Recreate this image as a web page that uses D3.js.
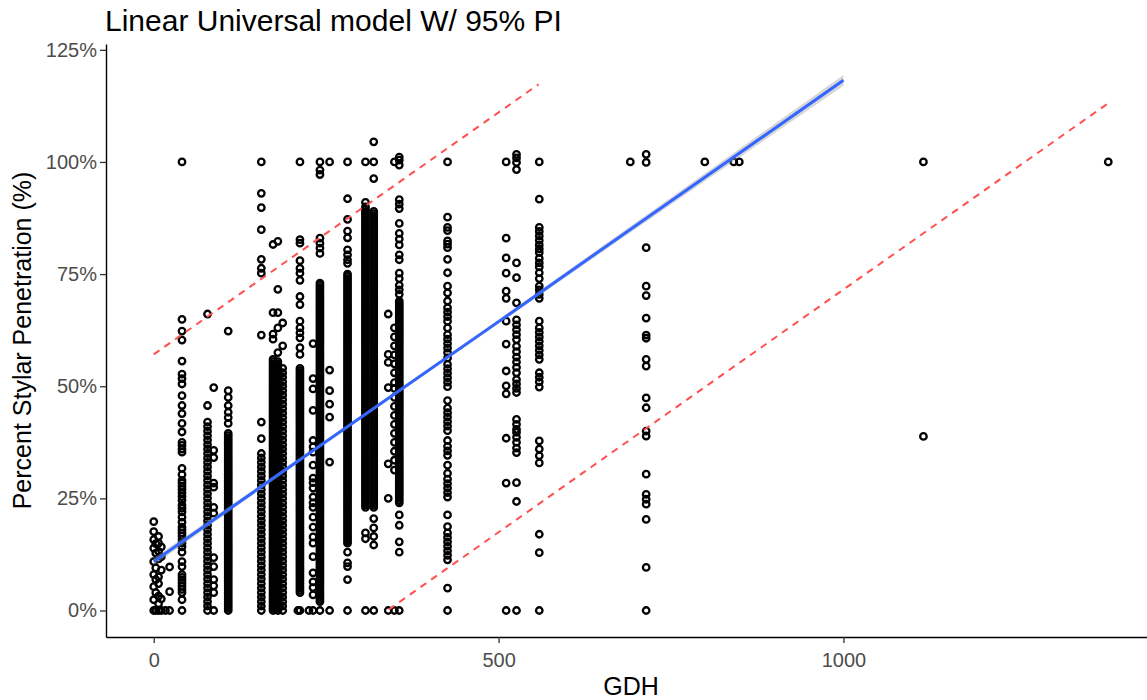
<!DOCTYPE html>
<html>
<head>
<meta charset="utf-8">
<script src="https://cdn.jsdelivr.net/npm/d3@7"></script>
<style>
  html, body { margin: 0; padding: 0; background: #fff; overflow: hidden; }
  svg { display: block; font-family: "Liberation Sans", Arial, Helvetica, sans-serif; }
</style>
</head>
<body>
<svg id="chart" width="1147" height="700"></svg>
<script>
const chartTitle = "Linear Universal model W/ 95% PI";
const xTitle = "GDH";
const yTitle = "Percent Stylar Penetration (%)";
const xTicks = [0, 500, 1000];
const yTicks = [0, 25, 50, 75, 100, 125];

// GDH at which each group of flowers was sampled
const groupGDH = [0, 3, 7, 11, 17, 23, 41, 78, 87, 108, 156, 173, 180, 187, 209, 212, 225, 231, 241, 255,
  281, 307, 319, 340, 349, 356, 426, 511, 526, 559, 691, 714, 799, 841, 849, 1116, 1384];

// stylar penetration (%) of each flower in the matching group
const groupPct = [
  [0, 2.4, 5.3, 8, 10.9, 13.9, 15.8, 17.6, 19.8],
  [0, 4, 6.9, 9.5, 12.8, 14.9],
  [0, 1.5, 3.2, 6, 7.5, 11.5, 13.2, 15, 16.5],
  [0, 2.6, 9, 12, 14.2],
  [0],
  [0, 4.2, 9.7],
  [0, 2.4, 4, 4.7, 5.4, 6.1, 6.8, 7.4, 8, 9.8, 10.9, 13, 14.2, 15, 15.8, 16.6, 17.3, 18, 18.6, 19.7, 20.8, 22, 22.8, 23.5,
   24.6, 25.4, 26.2, 27, 27.7, 28.4, 29, 30.3, 31.7, 35.3, 36, 36.8, 37.5, 39.8, 41.7, 43.9, 45.7, 47.9, 50.5, 51.7,
   52.7, 55.6, 60.3, 62.3, 64.9, 100],
  [0, 1, 2, 3, 4, 5, 6, 7, 8, 9, 10, 11, 12, 13, 14, 15, 16, 17, 18, 19, 20, 21, 22, 23, 24, 25, 26, 27, 28, 29, 30, 31,
   32, 33, 34, 35, 36, 37, 38, 39, 40, 41, 42, 45.7, 66.1],
  [0, 4, 5.5, 6.9, 9.8, 11.8, 21.7, 23, 27.5, 28.4, 34.1, 35.7, 49.7],
  [0, .5, 1, 1.5, 2, 2.5, 3, 3.5, 4, 4.5, 5, 5.5, 6, 6.5, 7, 7.5, 8, 8.5, 9, 9.5, 10, 10.5, 11, 11.5, 12, 12.5, 13, 13.5,
   14, 14.5, 15, 15.5, 16, 16.5, 17, 17.5, 18, 18.5, 19, 19.5, 20, 20.5, 21, 21.5, 22, 22.5, 23, 23.5, 24, 24.5, 25, 25.5,
   26, 26.5, 27, 27.5, 28, 28.5, 29, 29.5, 30, 30.5, 31, 31.5, 32, 32.5, 33, 33.5, 34, 34.5, 35, 35.5, 36, 36.5, 37, 37.5,
   38, 38.5, 39, 39.5, 41.7, 43, 44.2, 45.7, 47.5, 49, 62.3],
  [0, 1, 2, 3, 4, 5, 6, 7, 8, 9, 10, 11, 12, 13, 14, 15, 16, 17, 18, 19, 20, 21, 22, 23, 24, 25, 26, 27, 28, 29, 30, 31,
   32, 33, 34, 35, 38.3, 42, 61.4, 75.2, 76.3, 78.3, 84.9, 89.8, 93, 100],
  [0, .5, 1, 1.5, 2, 2.5, 3, 3.5, 4, 4.5, 5, 5.5, 6, 6.5, 7, 7.5, 8, 8.5, 9, 9.5, 10, 10.5, 11, 11.5, 12, 12.5, 13, 13.5,
   14, 14.5, 15, 15.5, 16, 16.5, 17, 17.5, 18, 18.5, 19, 19.5, 20, 20.5, 21, 21.5, 22, 22.5, 23, 23.5, 24, 24.5, 25, 25.5,
   26, 26.5, 27, 27.5, 28, 28.5, 29, 29.5, 30, 30.5, 31, 31.5, 32, 32.5, 33, 33.5, 34, 34.5, 35, 35.5, 36, 36.5, 37, 37.5,
   38, 38.5, 39, 39.5, 40, 40.5, 41, 41.5, 42, 42.5, 43, 43.5, 44, 44.5, 45, 45.5, 46, 46.5, 47, 47.5, 48, 48.5, 49, 49.5,
   50, 50.5, 51, 51.5, 52, 52.5, 53, 53.5, 54, 54.5, 55, 55.5, 56, 60.5, 61.6, 66.4, 81.6],
  [0, .5, 1, 1.5, 2, 2.5, 3, 3.5, 4, 4.5, 5, 5.5, 6, 6.5, 7, 7.5, 8, 8.5, 9, 9.5, 10, 10.5, 11, 11.5, 12, 12.5, 13, 13.5,
   14, 14.5, 15, 15.5, 16, 16.5, 17, 17.5, 18, 18.5, 19, 19.5, 20, 20.5, 21, 21.5, 22, 22.5, 23, 23.5, 24, 24.5, 25, 25.5,
   26, 26.5, 27, 27.5, 28, 28.5, 29, 29.5, 30, 30.5, 31, 31.5, 32, 32.5, 33, 33.5, 34, 34.5, 35, 35.5, 36, 36.5, 37, 37.5,
   38, 38.5, 39, 39.5, 40, 40.5, 41, 41.5, 42, 42.5, 43, 43.5, 44, 44.5, 45, 45.5, 46, 46.5, 47, 47.5, 48, 48.5, 49, 49.5,
   50, 50.5, 51, 51.5, 52, 52.5, 53, 53.5, 54, 54.5, 55, 55.5, 57.5, 63, 66.4, 71.6, 82.3],
  [0, 1, 2, 3, 4, 5, 6, 7, 8, 9, 10, 11, 12, 13, 14, 15, 16, 17, 18, 19, 20, 21, 22, 23, 24, 25, 26, 27, 28, 29, 30, 31,
   32, 33, 34, 35, 36, 37, 38, 39, 40, 41, 42, 43, 44, 45, 46, 47, 48, 49, 50, 51, 52, 53, 54, 59, 64.1],
  [0],
  [0, 4, 4.5, 5, 5.5, 6, 6.5, 7, 7.5, 8, 8.5, 9, 9.5, 10, 10.5, 11, 11.5, 12, 12.5, 13, 13.5, 14, 14.5, 15, 15.5, 16, 16.5,
   17, 17.5, 18, 18.5, 19, 19.5, 20, 20.5, 21, 21.5, 22, 22.5, 23, 23.5, 24, 24.5, 25, 25.5, 26, 26.5, 27, 27.5, 28, 28.5,
   29, 29.5, 30, 30.5, 31, 31.5, 32, 32.5, 33, 33.5, 34, 34.5, 35, 35.5, 36, 36.5, 37, 37.5, 38, 38.5, 39, 39.5, 40, 40.5,
   41, 41.5, 42, 42.5, 43, 43.5, 44, 44.5, 45, 45.5, 46, 46.5, 47, 47.5, 48, 48.5, 49, 49.5, 50, 50.5, 51, 51.5, 52, 52.5,
   53, 53.5, 54, 57.1, 58.6, 60.8, 61.9, 63, 64.5, 68.2, 70, 73.6, 75.2, 76.3, 78, 81.9, 82.7, 100],
  [0],
  [0, 3.5, 5.1, 6.4, 8.4, 12, 15, 16.4, 18.6, 20.8, 23, 24, 25.3, 27.3, 28.5, 29.5, 32.4, 35.3, 36.5, 37.9, 44.6, 49.4,
   51.7, 59.5],
  [0, 2, 2.5, 3, 3.5, 4, 4.5, 5, 5.5, 6, 6.5, 7, 7.5, 8, 8.5, 9, 9.5, 10, 10.5, 11, 11.5, 12, 12.5, 13, 13.5, 14, 14.5, 15,
   15.5, 16, 16.5, 17, 17.5, 18, 18.5, 19, 19.5, 20, 20.5, 21, 21.5, 22, 22.5, 23, 23.5, 24, 24.5, 25, 25.5, 26, 26.5, 27,
   27.5, 28, 28.5, 29, 29.5, 30, 30.5, 31, 31.5, 32, 32.5, 33, 33.5, 34, 34.5, 35, 35.5, 36, 36.5, 37, 37.5, 38, 38.5, 39,
   39.5, 40, 40.5, 41, 41.5, 42, 42.5, 43, 43.5, 44, 44.5, 45, 45.5, 46, 46.5, 47, 47.5, 48, 48.5, 49, 49.5, 50, 50.5, 51,
   51.5, 52, 52.5, 53, 53.5, 54, 54.5, 55, 55.5, 56, 56.5, 57, 57.5, 58, 58.5, 59, 59.5, 60, 60.5, 61, 61.5, 62, 62.5, 63,
   63.5, 64, 64.5, 65, 65.5, 66, 66.5, 67, 67.5, 68, 68.5, 69, 69.5, 70, 70.5, 71, 71.5, 72, 72.5, 73, 79.6, 80.8, 81.9, 83,
   97.2, 98.2, 100],
  [0, 33.1, 43.1, 46, 49, 53.6, 100],
  [0, 6.9, 9.8, 10.6, 13, 15, 15.5, 16, 16.5, 17, 17.5, 18, 18.5, 19, 19.5, 20, 20.5, 21, 21.5, 22, 22.5, 23, 23.5, 24,
   24.5, 25, 25.5, 26, 26.5, 27, 27.5, 28, 28.5, 29, 29.5, 30, 30.5, 31, 31.5, 32, 32.5, 33, 33.5, 34, 34.5, 35, 35.5, 36,
   36.5, 37, 37.5, 38, 38.5, 39, 39.5, 40, 40.5, 41, 41.5, 42, 42.5, 43, 43.5, 44, 44.5, 45, 45.5, 46, 46.5, 47, 47.5, 48,
   48.5, 49, 49.5, 50, 50.5, 51, 51.5, 52, 52.5, 53, 53.5, 54, 54.5, 55, 55.5, 56, 56.5, 57, 57.5, 58, 58.5, 59, 59.5, 60,
   60.5, 61, 61.5, 62, 62.5, 63, 63.5, 64, 64.5, 65, 65.5, 66, 66.5, 67, 67.5, 68, 68.5, 69, 69.5, 70, 70.5, 71, 71.5, 72,
   72.5, 73, 73.5, 74, 74.5, 75, 77.4, 78.2, 79.3, 80.4, 83.1, 84.6, 87.2, 91.8, 100],
  [0, 16, 17.3, 23, 23.5, 24, 24.5, 25, 25.5, 26, 26.5, 27, 27.5, 28, 28.5, 29, 29.5, 30, 30.5, 31, 31.5, 32, 32.5, 33,
   33.5, 34, 34.5, 35, 35.5, 36, 36.5, 37, 37.5, 38, 38.5, 39, 39.5, 40, 40.5, 41, 41.5, 42, 42.5, 43, 43.5, 44, 44.5, 45,
   45.5, 46, 46.5, 47, 47.5, 48, 48.5, 49, 49.5, 50, 50.5, 51, 51.5, 52, 52.5, 53, 53.5, 54, 54.5, 55, 55.5, 56, 56.5, 57,
   57.5, 58, 58.5, 59, 59.5, 60, 60.5, 61, 61.5, 62, 62.5, 63, 63.5, 64, 64.5, 65, 65.5, 66, 66.5, 67, 67.5, 68, 68.5, 69,
   69.5, 70, 70.5, 71, 71.5, 72, 72.5, 73, 73.5, 74, 74.5, 75, 75.5, 76, 76.5, 77, 77.5, 78, 78.5, 79, 79.5, 80, 80.5, 81,
   81.5, 82, 82.5, 83, 83.5, 84, 84.5, 85, 85.5, 86, 86.5, 87, 87.5, 88, 88.5, 89, 89.5, 90, 91, 100],
  [0, 14.6, 16.5, 18.4, 20.5, 23, 23.5, 24, 24.5, 25, 25.5, 26, 26.5, 27, 27.5, 28, 28.5, 29, 29.5, 30, 30.5, 31, 31.5, 32,
   32.5, 33, 33.5, 34, 34.5, 35, 35.5, 36, 36.5, 37, 37.5, 38, 38.5, 39, 39.5, 40, 40.5, 41, 41.5, 42, 42.5, 43, 43.5, 44,
   44.5, 45, 45.5, 46, 46.5, 47, 47.5, 48, 48.5, 49, 49.5, 50, 50.5, 51, 51.5, 52, 52.5, 53, 53.5, 54, 54.5, 55, 55.5, 56,
   56.5, 57, 57.5, 58, 58.5, 59, 59.5, 60, 60.5, 61, 61.5, 62, 62.5, 63, 63.5, 64, 64.5, 65, 65.5, 66, 66.5, 67, 67.5, 68,
   68.5, 69, 69.5, 70, 70.5, 71, 71.5, 72, 72.5, 73, 73.5, 74, 74.5, 75, 75.5, 76, 76.5, 77, 77.5, 78, 78.5, 79, 79.5, 80,
   80.5, 81, 81.5, 82, 82.5, 83, 83.5, 84, 84.5, 85, 85.5, 86, 86.5, 87, 87.5, 88, 88.5, 89, 96.3, 100, 104.5],
  [0, 25, 32.7, 49.7, 55.3, 57.1, 66.1],
  [0, 31.3, 33.5, 35.5, 37.5, 39.5, 41.5, 43.5, 45.5, 47.5, 49.5, 50.8, 53, 55, 57, 59, 61, 63, 100],
  [0, 13, 15.3, 19, 21.3, 24, 24.5, 25, 25.5, 26, 26.5, 27, 27.5, 28, 28.5, 29, 29.5, 30, 30.5, 31, 31.5, 32, 32.5, 33,
   33.5, 34, 34.5, 35, 35.5, 36, 36.5, 37, 37.5, 38, 38.5, 39, 39.5, 40, 40.5, 41, 41.5, 42, 42.5, 43, 43.5, 44, 44.5, 45,
   45.5, 46, 46.5, 47, 47.5, 48, 48.5, 49, 49.5, 50, 50.5, 51, 51.5, 52, 52.5, 53, 53.5, 54, 54.5, 55, 55.5, 56, 56.5, 57,
   57.5, 58, 58.5, 59, 59.5, 60, 60.5, 61, 61.5, 62, 62.5, 63, 63.5, 64, 64.5, 65, 65.5, 66, 66.5, 67, 67.5, 68, 68.5, 69,
   70.5, 71.5, 72.5, 74, 75.2, 78.2, 79.3, 81.5, 82.8, 84.1, 86.3, 89.6, 90.6, 91.6, 99.3, 100.4, 101.1],
  [0, 5, 11.3, 12.3, 13.3, 14.3, 15.3, 16.3, 17.3, 18.7, 21.3, 25.3, 26.3, 27.3, 28.3, 29.3, 30.6, 32.4, 34.6, 35.6, 36.6,
   37.9, 40.1, 41.1, 42.1, 43.1, 44.1, 45.1, 46.8, 49.9, 50.9, 51.9, 52.9, 53.9, 54.9, 56.3, 57.5, 58.5, 59.5, 60.5, 61.5,
   63, 64.5, 65.5, 66.5, 67.5, 69, 70.8, 72.3, 75.3, 78.3, 80.9, 81.7, 82.4, 84.7, 85.4, 87.7, 100],
  [0, 28.4, 38.4, 48.3, 50.1, 53.4, 59.4, 64.5, 69.6, 71.2, 75.2, 78.6, 83, 100],
  [0, 24.3, 28.5, 35.2, 36.2, 37.5, 38.6, 39.7, 40.4, 41.5, 42.6, 48.6, 49.5, 50.5, 51.5, 53, 54.2, 55.4, 56.5, 57.7,
   58.9, 60.4, 61.5, 62.6, 63.7, 64.8, 68.6, 74.2, 77.5, 98.3, 99.9, 100.9, 101.7],
  [0, 12.9, 17, 32.9, 34.5, 36, 37.8, 49.8, 51, 52, 53, 56, 57, 58, 59, 60, 61, 62, 63, 64.5, 69.6, 70.5, 71.5, 72.3, 74,
   75.3, 76.6, 77.5, 78.5, 79.8, 80.6, 81.5, 82.5, 83.5, 84.5, 85.4, 91.7, 100],
  [100],
  [0, 9.6, 20.3, 23.7, 24.8, 25.9, 30.4, 38.9, 40, 45.2, 47.4, 54.5, 56, 60.7, 61.4, 65.2, 70.2, 72.3, 80.9, 99.9, 101.7],
  [100],
  [100],
  [100],
  [38.8, 100],
  [100]
];

// fitted linear model with its standard-error ribbon
const fitGDH = [0, 250, 500, 750, 1000];
const fitPct = [10.9, 37.7, 64.4, 91.3, 118.2];
const fitSE = [0.8, 0.35, 0.45, 0.8, 1.2];

// 95% prediction interval limits
const upperGDH = [0, 558];
const upperPct = [57.1, 117.3];
const lowerGDH = [340.6, 1384];
const lowerPct = [0.2, 113.1];

const svg = d3.select("#chart");
const panel = { left: 106, right: 1156, top: 44, bottom: 637 };

const x = d3.scaleLinear().domain([-69.2, 1453.2]).range([panel.left, panel.right]);
const y = d3.scaleLinear().domain([-5.91, 126.3]).range([panel.bottom, panel.top]);

// observations as open circles
const points = [];
groupGDH.forEach((g, i) => groupPct[i].forEach(p => points.push({ g, p })));

svg.append("g")
  .selectAll("circle")
  .data(points)
  .join("circle")
  .attr("cx", d => x(d.g))
  .attr("cy", d => y(d.p))
  .attr("r", 3.25)
  .attr("fill", "none")
  .attr("stroke", "#000")
  .attr("stroke-width", 2.3);

// standard-error ribbon and fitted line
const fit = fitGDH.map((g, i) => ({ g, p: fitPct[i], se: fitSE[i] }));
svg.append("path")
  .datum(fit)
  .attr("fill", "#999")
  .attr("fill-opacity", 0.4)
  .attr("d", d3.area().x(d => x(d.g)).y0(d => y(d.p - d.se)).y1(d => y(d.p + d.se)));

svg.append("path")
  .datum(fit)
  .attr("fill", "none")
  .attr("stroke", "#3366FF")
  .attr("stroke-width", 3)
  .attr("d", d3.line().x(d => x(d.g)).y(d => y(d.p)));

// prediction interval limits
const piLine = d3.line().x(d => x(d.g)).y(d => y(d.p));
[[upperGDH, upperPct], [lowerGDH, lowerPct]].forEach(([gs, ps]) => {
  svg.append("path")
    .datum(gs.map((g, i) => ({ g, p: ps[i] })))
    .attr("fill", "none")
    .attr("stroke", "#FF4F4F")
    .attr("stroke-width", 2)
    .attr("stroke-dasharray", "7,6")
    .attr("d", piLine);
});

// axes
const yAxis = svg.append("g")
  .attr("transform", `translate(${panel.left},0)`)
  .call(d3.axisLeft(y).tickValues(yTicks).tickFormat(d => d + "%").tickSize(6).tickSizeOuter(0).tickPadding(3));
const xAxis = svg.append("g")
  .attr("transform", `translate(0,${panel.bottom})`)
  .call(d3.axisBottom(x).tickValues(xTicks).tickFormat(d3.format("d")).tickSize(6).tickSizeOuter(0).tickPadding(10));

[yAxis, xAxis].forEach(a => {
  a.select(".domain").attr("stroke", "#000").attr("stroke-width", 1.4);
  a.selectAll(".tick line").attr("stroke", "#333").attr("stroke-width", 1.3);
  a.selectAll(".tick text")
    .attr("fill", "#4D4D4D")
    .style("font-size", "20px")
    .style("font-family", "'Liberation Sans', Arial, sans-serif");
});

// titles
svg.append("text")
  .attr("x", 105)
  .attr("y", 31)
  .attr("fill", "#000")
  .style("font-size", "30px")
  .text(chartTitle);

svg.append("text")
  .attr("x", (panel.left + panel.right) / 2)
  .attr("y", 695)
  .attr("text-anchor", "middle")
  .attr("fill", "#000")
  .style("font-size", "25px")
  .text(xTitle);

svg.append("text")
  .attr("transform", `translate(31,${(panel.top + panel.bottom) / 2}) rotate(-90)`)
  .attr("text-anchor", "middle")
  .attr("fill", "#000")
  .style("font-size", "25px")
  .text(yTitle);
</script>
</body>
</html>
